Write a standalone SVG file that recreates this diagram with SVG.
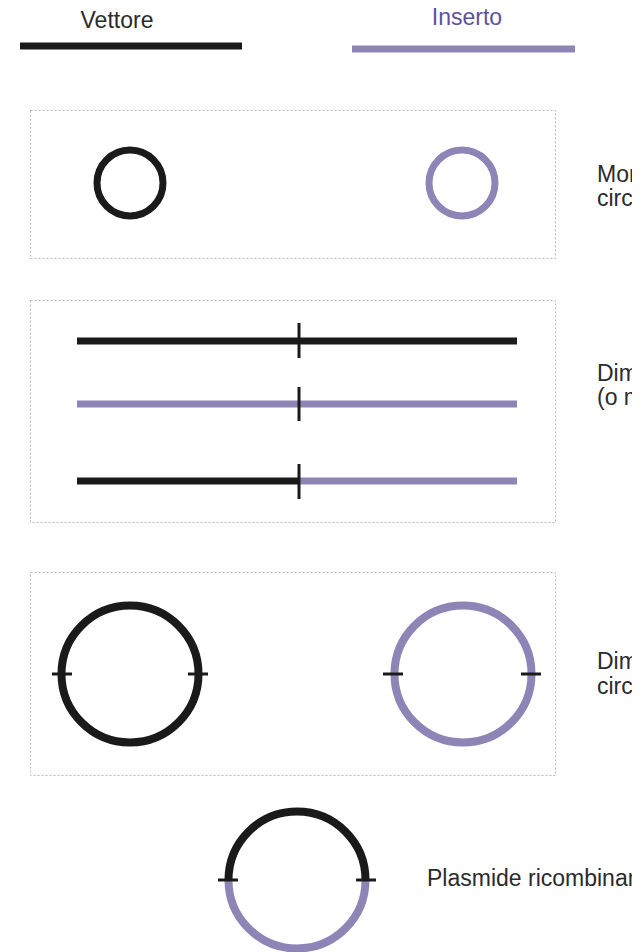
<svg xmlns="http://www.w3.org/2000/svg" width="642" height="952" viewBox="0 0 642 952">
<style>
.t{font-family:"Liberation Sans",Arial,sans-serif;font-size:23px;fill:#2b2b2b}
.box{fill:none;stroke:#b8b8b8;stroke-width:1;stroke-dasharray:2 2}
.v{fill:none;stroke:#1a1a1a;stroke-width:7}
.i{fill:none;stroke:#8f84b6;stroke-width:7}
.tick{stroke:#1a1a1a;stroke-width:3;fill:none}
</style>
<defs><clipPath id="clip"><rect x="0" y="0" width="632" height="952"/></clipPath></defs>
<rect width="642" height="952" fill="#fff"/>
<g id="legend">
<text class="t" x="117" y="28" text-anchor="middle">Vettore</text>
<line class="v" x1="20" y1="46" x2="242" y2="46"/>
<text class="t" x="467" y="25" text-anchor="middle" style="fill:#5e51a0">Inserto</text>
<line class="i" x1="352" y1="49" x2="575" y2="49"/>
</g>
<g id="monomeri">
<rect class="box" x="30.5" y="110.5" width="525" height="148"/>
<circle class="v" cx="130" cy="183" r="33"/>
<circle class="i" cx="462" cy="183" r="33"/>
</g>
<g id="dimeri-lineari">
<rect class="box" x="30.5" y="300.5" width="525" height="222"/>
<line class="v" x1="77" y1="341" x2="517" y2="341"/>
<line class="tick" x1="299" y1="323" x2="299" y2="358"/>
<line class="i" x1="77" y1="404" x2="517" y2="404"/>
<line class="tick" x1="299" y1="387" x2="299" y2="421"/>
<line class="v" x1="77" y1="481" x2="299" y2="481"/>
<line class="i" x1="299" y1="481" x2="517" y2="481"/>
<line class="tick" x1="299" y1="464" x2="299" y2="499"/>
</g>
<g id="dimeri-circolari">
<rect class="box" x="30.5" y="572.5" width="525" height="203"/>
<circle class="v" cx="130" cy="674" r="68.5" style="stroke-width:8"/>
<line class="tick" x1="52" y1="674" x2="72" y2="674"/>
<line class="tick" x1="188" y1="674" x2="208" y2="674"/>
<circle class="i" cx="463" cy="674" r="68.5" style="stroke-width:8"/>
<line class="tick" x1="383" y1="674" x2="403" y2="674"/>
<line class="tick" x1="521" y1="674" x2="541" y2="674"/>
</g>
<g id="plasmide">
<path class="v" d="M228.5 880 A68.5 68.5 0 0 1 365.5 880" style="stroke-width:8"/>
<path class="i" d="M228.5 880 A68.5 68.5 0 0 0 365.5 880" style="stroke-width:8"/>
<line class="tick" x1="218" y1="880" x2="238" y2="880"/>
<line class="tick" x1="356" y1="880" x2="376" y2="880"/>
</g>
<g id="labels" clip-path="url(#clip)">
<text class="t" x="597" y="182">Mon</text>
<text class="t" x="597" y="206">circo</text>
<text class="t" x="597" y="381">Dim</text>
<text class="t" x="597" y="405">(o m</text>
<text class="t" x="597" y="669">Dim</text>
<text class="t" x="597" y="694">circo</text>
<text class="t" x="427" y="886">Plasmide ricombinan</text>
</g>
</svg>
